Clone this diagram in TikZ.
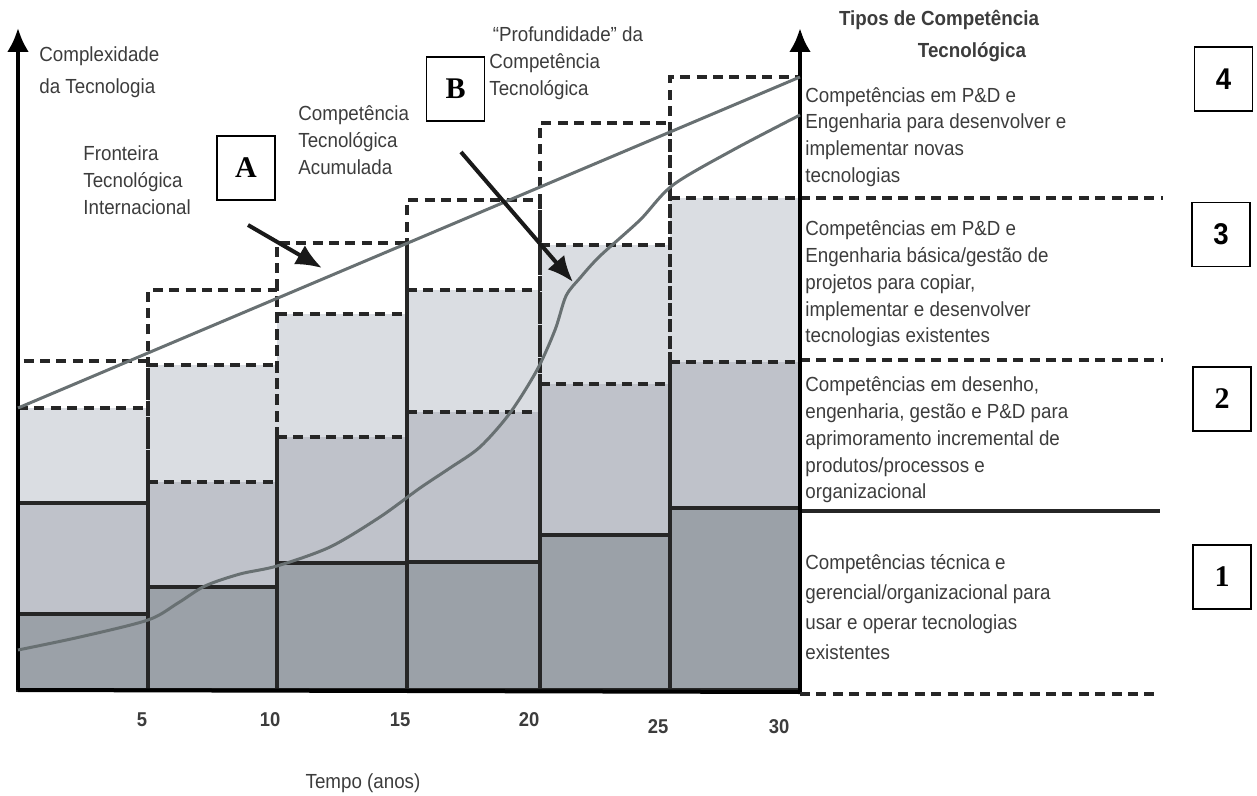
\documentclass[tikz,border=0pt]{standalone}
\usepackage{fontspec}
\setmainfont{Liberation Sans}[FakeStretch=0.92]
\newfontfamily\boxfont{Liberation Serif}
\usetikzlibrary{arrows.meta,positioning}

\definecolor{darkbar}{HTML}{9BA1A8}
\definecolor{midbar}{HTML}{BFC2CA}
\definecolor{lightbar}{HTML}{DADDE2}
\definecolor{txtgray}{HTML}{3C3C3C}
\definecolor{linegray}{HTML}{687072}

% x0/x1/top of dark/top of medium/top of light/top of dashed box
\def\cols{18/148/614/503/408/361, 148/277/587/482/365/290, 277/407/563/437/314/243,
  407/540/562/412/290/200, 540/670/535/384/245/123, 670/800/508/362/198/77}

\begin{document}
\begin{tikzpicture}[x=0.5pt,y=-0.5pt,>={Latex[length=12pt,width=11pt]},
    txt/.style={text=txtgray,font=\fontsize{10.2}{13.4}\selectfont,align=left,inner sep=0pt},
    numbox/.style={draw,line width=0.8pt,minimum width=29pt,minimum height=32pt,inner sep=0pt,
      font=\boxfont\bfseries\fontsize{15}{15}\selectfont},
    tick/.style={text=txtgray,font=\bfseries\fontsize{10}{10}\selectfont,inner sep=0pt},
    dsh/.style={dash pattern=on 5pt off 3.2pt},
    bar/.style={line width=1.6pt,black!85},
    curve/.style={linegray,line width=1.5pt}]

  \useasboundingbox (0,0) rectangle (1257,796);

  % stacked bars
  \foreach \xa/\xb/\d/\m/\l/\o in \cols {
    \fill[lightbar] (\xa,\m) rectangle (\xb,\l);
    \fill[midbar] (\xa,\d) rectangle (\xb,\m);
    \fill[darkbar] (\xa,690) rectangle (\xb,\d);
  }
  \foreach \xa/\xb/\d/\m/\l/\o in \cols {
    \draw[bar] (\xa,\m) -- (\xa,690) -- (\xb,690) -- (\xb,\m) (\xa,\d) -- (\xb,\d);
    \draw[bar,dsh] (\xa,\m) -- (\xb,\m) (\xa,\m) -- (\xa,\o) -- (\xb,\o) -- (\xb,\m) (\xa,\l) -- (\xb,\l);
  }
  \draw[bar] (18,503) -- (148,503);

  % levels on the right
  \draw[bar,dsh] (800,198) -- (1163,198) (800,360) -- (1163,360) (800,694) -- (1160,694);
  \draw[bar] (800,511) -- (1160,511);

  % axes
  \coordinate (o) at (18,690);
  \coordinate (ytop) at (18,28);
  \coordinate (rbot) at (800,692);
  \coordinate (rtop) at (800,28);
  \draw[->,line width=2pt] (o) -- (ytop);
  \draw[->,line width=2.4pt] (rbot) -- (rtop);
  \draw[line width=2pt] (o) -- (rbot);

  % frontier and accumulated competence
  \draw[curve] (18,408) -- (800,77);
  \draw[curve] plot[smooth,tension=0.5] coordinates {(18,650) (80,637) (148,620) (178,603)
    (205,586) (240,574) (277,566) (330,547) (380,517) (420,488) (450,468) (480,447) (510,413)
    (537,370) (555,330) (566,296) (580,278) (600,256) (640,220) (673,185) (733,150) (800,115)};

  % pointers A and B
  \coordinate (aS) at (248,225);
  \coordinate (aE) at (322,268);
  \coordinate (bS) at (461,152);
  \coordinate (bE) at (573,282);
  \draw[->,line width=2pt,black!90,>={Latex[length=13pt,width=11pt]}] (aS) -- (aE);
  \draw[->,line width=2pt,black!90,>={Latex[length=13pt,width=11pt]}] (bS) -- (bE);

  \node[numbox] (A) at (246,168) {A};
  \node[numbox] (B) at (455.5,89) {B};
  \node[numbox,font=\bfseries\fontsize{15}{15}\selectfont] (n4) at (1223.5,79) {4};
  \node[numbox,font=\bfseries\fontsize{15}{15}\selectfont] (n3) at (1221,234.5) {3};
  \node[numbox] (n2) at (1222,399) {2};
  \node[numbox] (n1) at (1222,577) {1};

  % texts
  \node[txt,anchor=west] (ylab) at (39,72) {Complexidade\\[2.6pt]da Tecnologia};
  \node[txt,anchor=west] (fti) at (83,180) {Fronteira\\Tecnológica\\Internacional};
  \node[txt,anchor=west] (cta) at (298,140) {Competência\\Tecnológica\\Acumulada};
  \node[txt,anchor=west] (pct) at (489,63) {\,“Profundidade” da\\Competência\\Tecnológica};

  \node[txt,font=\bfseries\fontsize{10.2}{13.4}\selectfont] (tt1) at (939,20) {Tipos de Competência};
  \node[txt,font=\bfseries\fontsize{10.2}{13.4}\selectfont] (tt2) at (972,52) {Tecnológica};

  \node[txt,anchor=west] (t4) at (805,137) {Competências em P\&D e\\Engenharia para desenvolver e\\implementar novas\\tecnologias};
  \node[txt,anchor=west] (t3) at (805,284) {Competências em P\&D e\\Engenharia básica/gestão de\\projetos para copiar,\\implementar e desenvolver\\tecnologias existentes};
  \node[txt,anchor=west] (t2) at (805,440) {Competências em desenho,\\engenharia, gestão e P\&D para\\aprimoramento incremental de\\produtos/processos e\\organizacional};
  \node[txt,anchor=west,font=\fontsize{10.2}{15}\selectfont] (t1) at (805,607) {Competências técnica e\\gerencial/organizacional para\\usar e operar tecnologias\\existentes};

  \foreach \x/\y/\t in {142/720/5, 270/720/10, 400/720/15, 529/720/20, 658/727/25, 779/727/30}
    \node[tick] (tick\t) at (\x,\y) {\t};
  \node[txt] (xlab) at (363,783) {Tempo (anos)};
\end{tikzpicture}
\end{document}
